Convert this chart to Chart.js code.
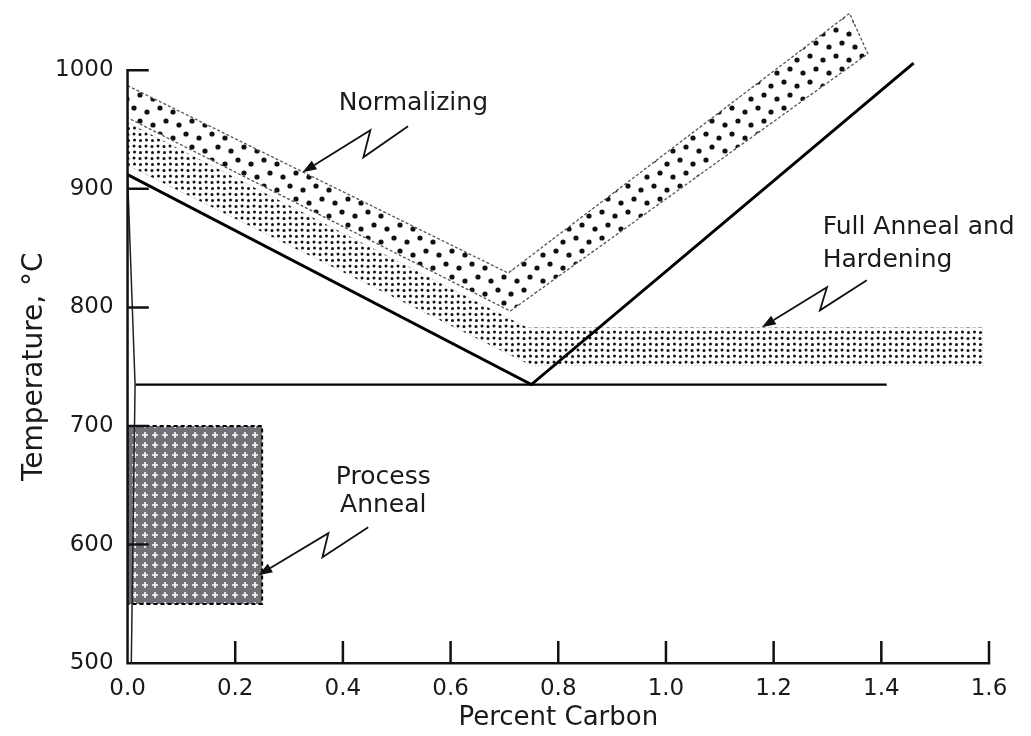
<!DOCTYPE html>
<html lang="en">
<head>
  <meta charset="UTF-8">
  <title>Heat Treatment Temperature Ranges</title>
  <script src="https://cdn.jsdelivr.net/npm/chart.js"></script>
  <style>
    html, body { margin: 0; padding: 0; background: #fff; }
    canvas { display: block; }
  </style>
</head>
<body>
  <canvas id="chart" width="1031" height="736"></canvas>

  <script>
    // values: [percent carbon, temperature °C]
    const a3AcmLine = [[0, 912], [0.75, 735], [1.46, 1006]];
    const a1Line = [[0.015, 735], [1.41, 735]];
    const ferriteLine = [[0, 912], [0.014, 735], [0.007, 500]];
    const normalizingBand = [[0, 987], [0.707, 829], [1.341, 1048], [1.375, 1014], [0.711, 797], [0, 960], [0, 987]];
    const fullAnnealBand = [[0, 956], [0.742, 783], [1.588, 783], [1.588, 751], [0.75, 751], [0, 920], [0, 956]];
    const processAnnealBox = [[0, 550], [0, 700], [0.25, 700], [0.25, 550], [0, 550]];

    const xTicks = [0, 0.2, 0.4, 0.6, 0.8, 1.0, 1.2, 1.4, 1.6];
    const yTicks = [500, 600, 700, 800, 900, 1000];

    const FONT = '"DejaVu Sans", "Liberation Sans", Arial, sans-serif';
    const INK = '#1a1a1a';

    const canvas = document.getElementById('chart');
    const ctx = canvas.getContext('2d');

    // fill textures
    function makePattern(size, draw) {
      const c = document.createElement('canvas');
      c.width = size;
      c.height = size;
      draw(c.getContext('2d'));
      return ctx.createPattern(c, 'repeat');
    }
    function dot(g, x, y, r) {
      g.beginPath();
      g.arc(x, y, r, 0, Math.PI * 2);
      g.fill();
    }

    const bigDots = makePattern(26, g => {
      g.fillStyle = '#111';
      dot(g, 4, 4, 2.6);
      dot(g, 17, 8, 2.6);
      dot(g, 10, 17, 2.6);
      dot(g, 23, 21, 2.6);
    });
    const smallDots = makePattern(12, g => {
      g.fillStyle = '#111';
      dot(g, 2, 2, 1.5);
      dot(g, 8, 2.5, 1.5);
      dot(g, 2.5, 8, 1.5);
      dot(g, 8.5, 8.5, 1.5);
    });
    const crosses = makePattern(10, g => {
      g.fillStyle = '#707277';
      g.fillRect(0, 0, 10, 10);
      g.strokeStyle = '#fff';
      g.lineWidth = 1.6;
      g.beginPath();
      g.moveTo(2, 5); g.lineTo(8, 5);
      g.moveTo(5, 2); g.lineTo(5, 8);
      g.stroke();
    });

    const pts = arr => arr.map(([x, y]) => ({ x, y }));

    // annotation text and zig-zag arrows, in data units
    const notes = [
      { text: 'Normalizing', x: 0.531, y: 972, align: 'center' },
      { text: 'Full Anneal and', x: 1.291, y: 867.6, align: 'left' },
      { text: 'Hardening', x: 1.291, y: 839.8, align: 'left' },
      { text: 'Process', x: 0.475, y: 657, align: 'center' },
      { text: 'Anneal', x: 0.475, y: 633, align: 'center' }
    ];
    const arrows = [
      [[0.521, 952.8], [0.438, 926.6], [0.451, 949.4], [0.325, 914.0]],
      [[1.373, 822.9], [1.286, 797.6], [1.299, 817.0], [1.178, 783.3]],
      [[0.447, 614.7], [0.362, 589.4], [0.373, 609.6], [0.243, 574.2]]
    ];

    const axesAndNotes = {
      id: 'axesAndNotes',
      afterDatasetsDraw(chart) {
        const { ctx, scales: { x, y } } = chart;
        const left = x.getPixelForValue(0);
        const right = x.getPixelForValue(1.6);
        const bottom = y.getPixelForValue(500);
        const top = y.getPixelForValue(1000);
        ctx.save();

        // axes with inward ticks
        ctx.strokeStyle = '#111';
        ctx.lineWidth = 2.5;
        ctx.lineCap = 'square';
        ctx.beginPath();
        ctx.moveTo(left, top);
        ctx.lineTo(left, bottom);
        ctx.lineTo(right, bottom);
        x.ticks.forEach(t => {
          if (t.value === 0) return;
          const px = x.getPixelForValue(t.value);
          ctx.moveTo(px, bottom);
          ctx.lineTo(px, bottom - 21);
        });
        y.ticks.forEach(t => {
          if (t.value === 500) return;
          const py = y.getPixelForValue(t.value);
          ctx.moveTo(left, py);
          ctx.lineTo(left + 20, py);
        });
        ctx.stroke();

        // zig-zag leader arrows
        ctx.lineWidth = 1.8;
        ctx.lineCap = 'butt';
        ctx.lineJoin = 'miter';
        ctx.fillStyle = '#111';
        arrows.forEach(a => {
          const p = a.map(([vx, vy]) => [x.getPixelForValue(vx), y.getPixelForValue(vy)]);
          const [tx, ty] = p[p.length - 1];
          const [sx, sy] = p[p.length - 2];
          const ang = Math.atan2(ty - sy, tx - sx);
          const len = 14, half = 5;
          const bx = tx - len * Math.cos(ang), by = ty - len * Math.sin(ang);
          ctx.beginPath();
          ctx.moveTo(p[0][0], p[0][1]);
          for (let i = 1; i < p.length - 1; i++) ctx.lineTo(p[i][0], p[i][1]);
          ctx.lineTo(bx, by);
          ctx.stroke();
          ctx.beginPath();
          ctx.moveTo(tx, ty);
          ctx.lineTo(bx - half * Math.sin(ang), by + half * Math.cos(ang));
          ctx.lineTo(bx + half * Math.sin(ang), by - half * Math.cos(ang));
          ctx.closePath();
          ctx.fill();
        });

        // labels
        ctx.fillStyle = INK;
        ctx.font = '25px ' + FONT;
        ctx.textBaseline = 'middle';
        notes.forEach(n => {
          ctx.textAlign = n.align;
          ctx.fillText(n.text, x.getPixelForValue(n.x), y.getPixelForValue(n.y));
        });

        // y axis title, centred on the 500-1000 span
        ctx.translate(35, (top + bottom) / 2);
        ctx.rotate(-Math.PI / 2);
        ctx.textAlign = 'center';
        ctx.font = '28px ' + FONT;
        ctx.fillText('Temperature, °C', 0, 0);
        ctx.restore();
      }
    };

    new Chart(ctx, {
      type: 'line',
      data: {
        datasets: [
          { label: 'A3 / Acm', data: pts(a3AcmLine), borderColor: '#000', borderWidth: 3, fill: false, order: 0 },
          { label: 'A1', data: pts(a1Line), borderColor: '#000', borderWidth: 2.2, fill: false, order: 0 },
          { label: 'Ferrite solvus', data: pts(ferriteLine), borderColor: '#222', borderWidth: 1.5, fill: false, order: 0 },
          {
            label: 'Process Anneal', data: pts(processAnnealBox), fill: 'shape',
            backgroundColor: crosses, borderColor: '#000', borderWidth: 2, borderDash: [4, 3], order: 1
          },
          {
            label: 'Full Anneal and Hardening', data: pts(fullAnnealBand), fill: 'shape',
            backgroundColor: smallDots, borderColor: 'rgba(0,0,0,0.3)', borderWidth: 0.8, borderDash: [1, 2], order: 2
          },
          {
            label: 'Normalizing', data: pts(normalizingBand), fill: 'shape',
            backgroundColor: bigDots, borderColor: '#555', borderWidth: 1.3, borderDash: [3, 2], order: 3
          }
        ]
      },
      options: {
        responsive: false,
        animation: false,
        layout: { padding: { left: 55, right: 42, top: 11, bottom: 0 } },
        elements: { point: { radius: 0, hoverRadius: 0 }, line: { tension: 0 } },
        plugins: { legend: { display: false }, tooltip: { enabled: false } },
        scales: {
          x: {
            type: 'linear',
            min: 0,
            max: 1.6,
            grid: { display: false, drawTicks: true, tickLength: 12 },
            border: { display: false },
            afterBuildTicks: s => { s.ticks = xTicks.map(v => ({ value: v })); },
            ticks: {
              padding: 0,
              color: INK,
              autoSkip: false,
              maxRotation: 0,
              font: { family: FONT, size: 23 },
              callback: v => Number(v).toFixed(1)
            },
            title: {
              display: true,
              text: 'Percent Carbon',
              color: INK,
              font: { family: FONT, size: 26 },
              padding: { top: 0, bottom: 2 }
            }
          },
          y: {
            type: 'linear',
            min: 500,
            max: 1050,
            grid: { display: false, drawTicks: true, tickLength: 14 },
            border: { display: false },
            afterBuildTicks: s => { s.ticks = yTicks.map(v => ({ value: v })); },
            ticks: {
              padding: 0,
              color: INK,
              font: { family: FONT, size: 23, lineHeight: 0.8 },
              callback: v => String(v)
            },
            title: { display: false }
          }
        }
      },
      plugins: [axesAndNotes]
    });
  </script>
</body>
</html>
